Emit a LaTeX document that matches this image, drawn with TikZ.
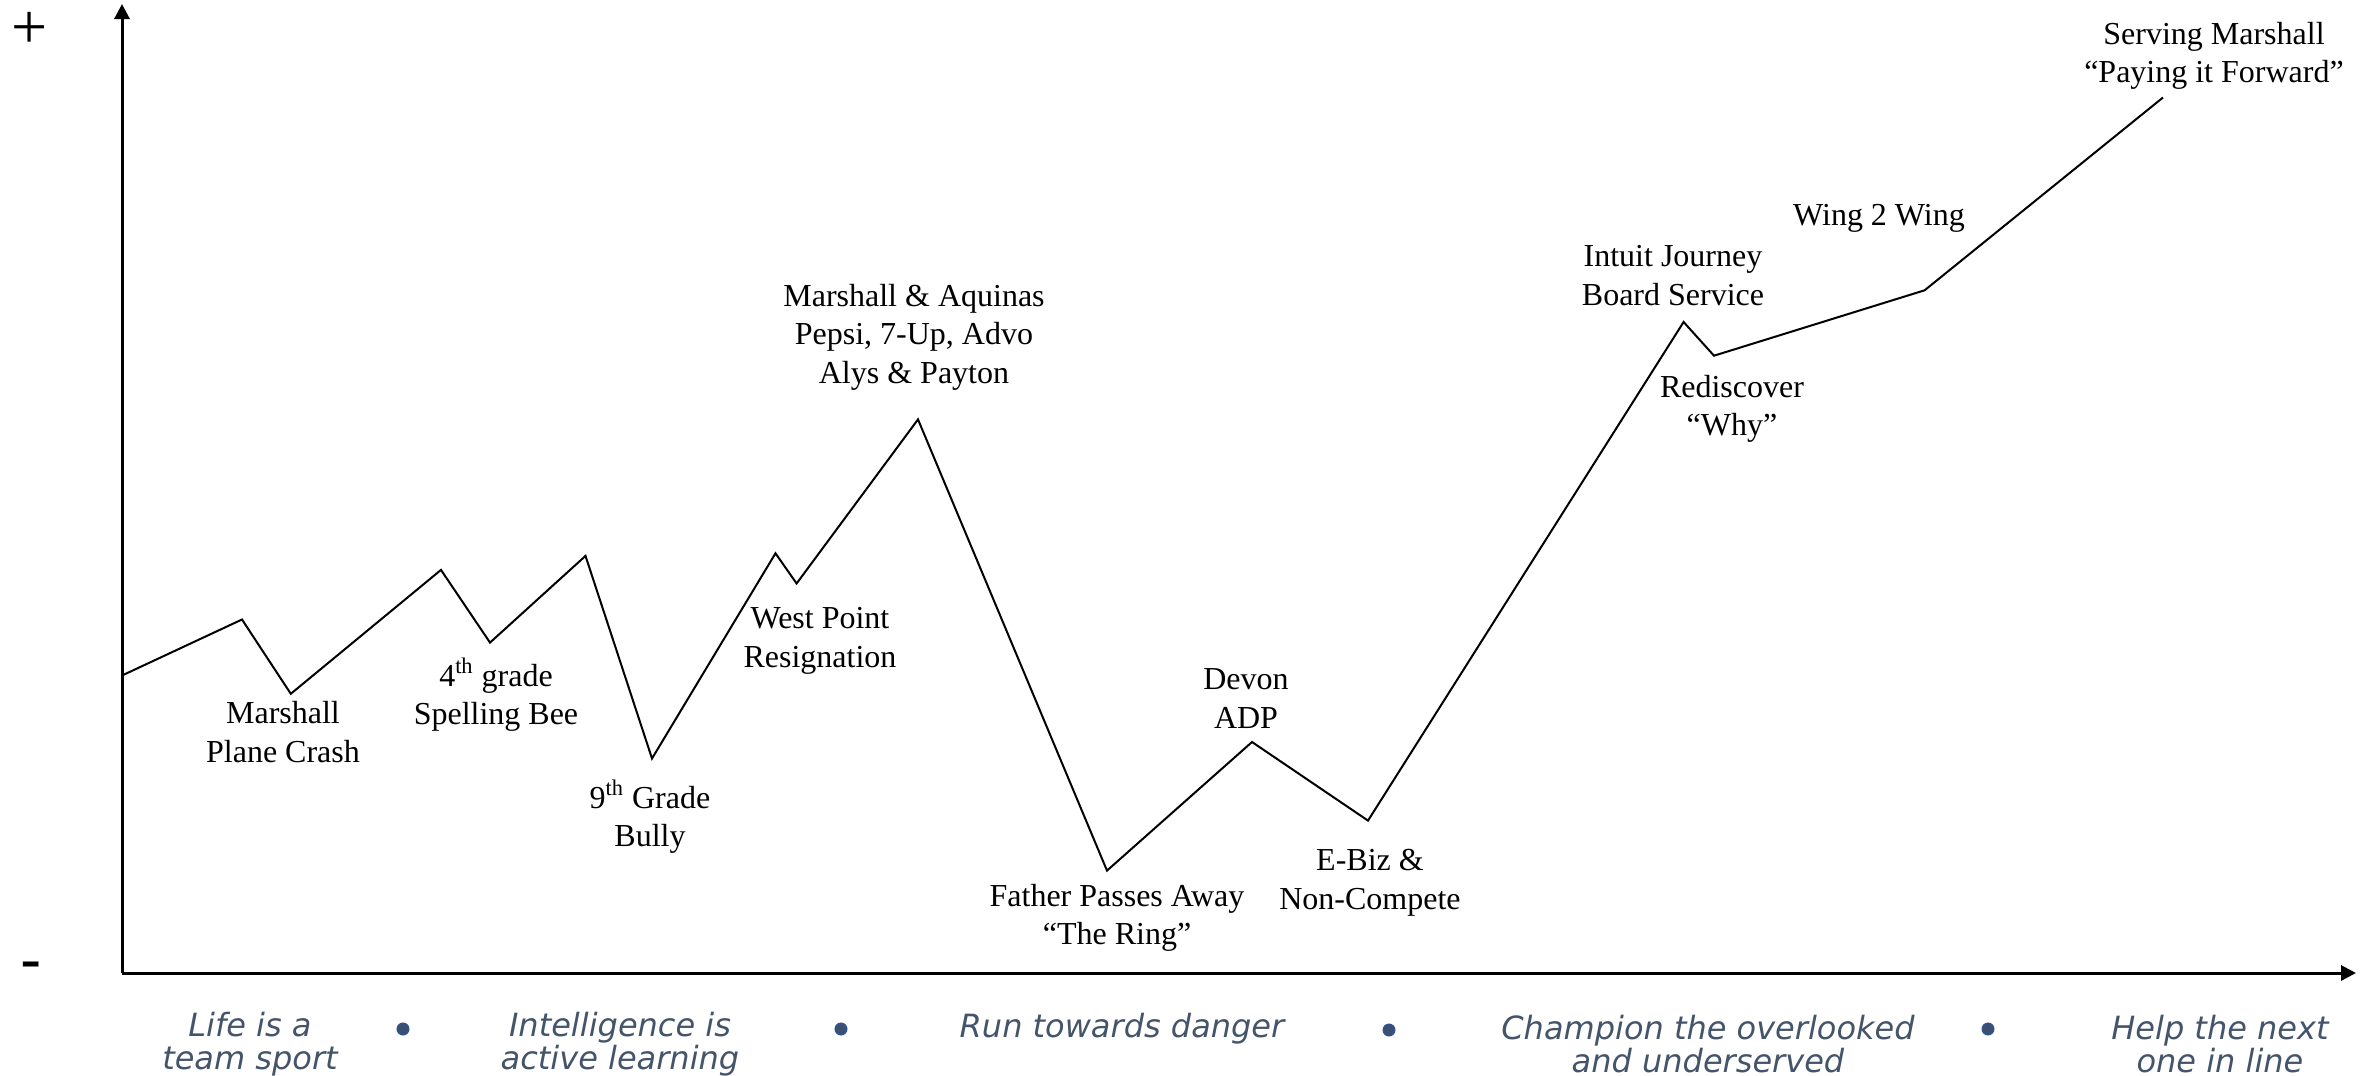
\documentclass[tikz,border=0pt]{standalone}
\usepackage{fontspec}
\setmainfont{Liberation Serif}
\newfontfamily\valuefont{DejaVu Sans}
\newfontfamily\signfont{Liberation Sans}
\usetikzlibrary{arrows.meta}
\definecolor{valuecol}{HTML}{44546A}
\definecolor{bulletfill}{HTML}{3B4F72}
\definecolor{bulletedge}{HTML}{2F5597}
\begin{document}
\begin{tikzpicture}[x=0.5pt,y=-0.5pt,
  event/.style={font=\fontsize{16}{19.25}\selectfont, align=center, inner sep=0pt},
  value/.style={font=\valuefont\itshape\fontsize{16}{16.5}\selectfont, text=valuecol, align=center, inner sep=0pt},
  axisline/.style={line width=1.5pt, -{Triangle[width=7.5pt,length=7.5pt]}},
  lifeline/.style={line width=1pt, line join=miter},
  bulletdot/.style={circle, fill=bulletfill, draw=bulletedge, line width=0.5pt, minimum size=6pt, inner sep=0pt},
  sign/.style={inner sep=0pt, anchor=base}
]
\useasboundingbox (0,0) rectangle (2374,1076);

% axes
\coordinate (O) at (122,973);
\coordinate (ytop) at (122,4);
\coordinate (xend) at (2356,973);
\draw[axisline] (O) -- (ytop);
\draw[axisline] (O) -- (xend);
\node[sign, font=\fontsize{32}{32}\selectfont] (plus) at (29.5,48) {+};
\node[sign, font=\signfont\fontsize{32}{32}\selectfont] (minus) at (31.5,981) {-};

% lifeline points
\coordinate (p0) at (122,675.5);
\coordinate (p1) at (242,619.5);
\coordinate (p2) at (290.8,693.8);
\coordinate (p3) at (441,569.9);
\coordinate (p4) at (490,642.6);
\coordinate (p5) at (585.5,555.9);
\coordinate (p6) at (652,758.5);
\coordinate (p7) at (775.5,553.3);
\coordinate (p8) at (796.6,583.5);
\coordinate (p9) at (918,419.4);
\coordinate (p10) at (1107,870.6);
\coordinate (p11) at (1252,742);
\coordinate (p12) at (1368,820.6);
\coordinate (p13) at (1683.6,322);
\coordinate (p14) at (1714,355.7);
\coordinate (p15) at (1924.6,290.3);
\coordinate (p16) at (2163,97.5);
\draw[lifeline] (p0) -- (p1) -- (p2) -- (p3) -- (p4) -- (p5) -- (p6) -- (p7) -- (p8)
  -- (p9) -- (p10) -- (p11) -- (p12) -- (p13) -- (p14) -- (p15) -- (p16);

% event labels
\node[event] (crash) at (283,732) {Marshall\\Plane Crash};
\node[event] (spell) at (496,695) {4\textsuperscript{th} grade\\Spelling Bee};
\node[event] (bully) at (650,817) {9\textsuperscript{th} Grade\\Bully};
\node[event] (west) at (820,641) {West Point\\Resignation};
\node[event] (aquinas) at (914,337) {Marshall \& Aquinas\\Pepsi, 7-Up, Advo\\Alys \& Payton};
\node[event] (father) at (1117,918) {Father Passes Away\\“The Ring”};
\node[event] (devon) at (1246,698.5) {Devon\\ADP};
\node[event] (ebiz) at (1370,883) {E-Biz \&\\Non-Compete};
\node[event] (intuit) at (1673,275.5) {Intuit Journey\\Board Service};
\node[event] (why) at (1732,409) {Rediscover\\“Why”};
\node[event] (wing) at (1879,218.5) {Wing 2 Wing};
\node[event] (serving) at (2214,56) {Serving Marshall\\“Paying it Forward”};

% values
\node[value] (v1) at (250,1044) {Life is a\\team sport};
\node[value] (v2) at (620,1044) {Intelligence is\\active learning};
\node[value] (v3) at (1122,1029) {Run towards danger};
\node[value] (v4) at (1708,1044) {Champion the overlooked\\and underserved};
\node[value] (v5) at (2220,1044) {Help the next\\one in line};
\node[bulletdot] (b1) at (403,1029) {};
\node[bulletdot] (b2) at (841,1029) {};
\node[bulletdot] (b3) at (1389,1030) {};
\node[bulletdot] (b4) at (1988,1029) {};
\end{tikzpicture}
\end{document}
